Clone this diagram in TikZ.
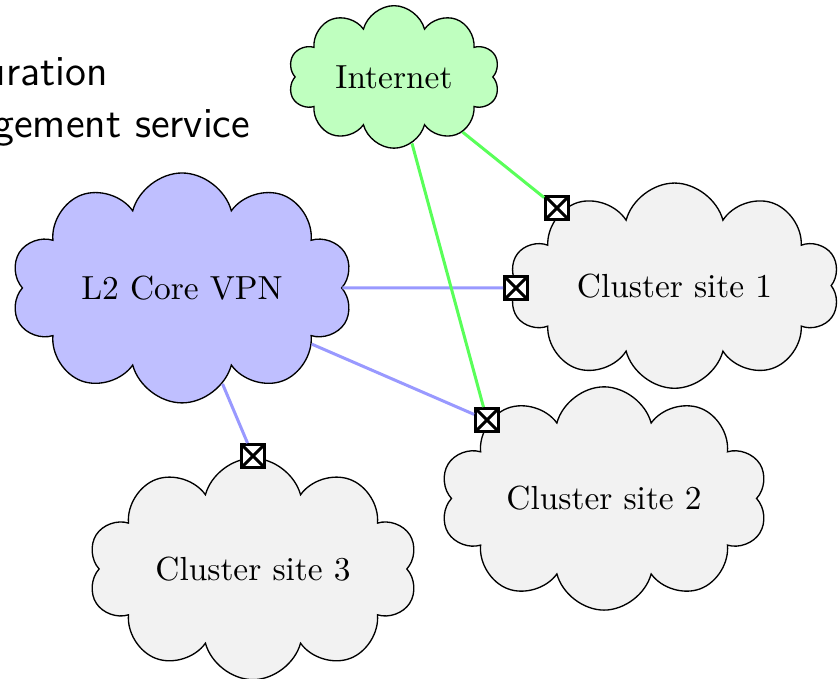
\documentclass[tikz,border=0pt]{standalone}
\usepackage{tikz}
\usetikzlibrary{shapes.symbols}

\tikzset{
    site/.style={cloud, cloud puffs=10, cloud ignores aspect, draw, fill=gray!10, inner sep=0pt},
    port/.style={draw, line width=0.9pt, fill=white, rectangle, minimum size=0.24cm, inner sep=0pt,
        path picture={\draw[line width=0.9pt] (path picture bounding box.south west) -- (path picture bounding box.north east)
            (path picture bounding box.north west) -- (path picture bounding box.south east);}},
    vpnlink/.style={blue!40, line width=0.9pt},
    netlink/.style={green!65, line width=0.9pt}
}

\begin{document}
\begin{tikzpicture}
    \useasboundingbox (0, 0) rectangle (8.821, 7.147);

    % slide text behind the picture
    \node[anchor=base east, inner sep=0pt, font=\sffamily\fontsize{12.8}{15}\selectfont] (cfgText) at (1.14, 6.245) {uration};
    \node[anchor=base east, inner sep=0pt, font=\sffamily\fontsize{12.8}{15}\selectfont] (mgmtText) at (2.64, 5.70) {gement service};

    \node[site, fill=green!25, minimum width=2.23cm, minimum height=1.5cm] (internet) at (4.147, 6.337) {Internet};
    \node[site, fill=blue!25, minimum width=3.6cm, minimum height=2.42cm] (coreVPN) at (1.916, 4.116) {L2 Core VPN};
    \node[site, minimum width=3.48cm, minimum height=2.16cm] (site1) at (7.1, 4.14) {Cluster site 1};
    \node[site, minimum width=3.45cm, minimum height=2.35cm] (site2) at (6.358, 1.9) {Cluster site 2};
    \node[site, minimum width=3.47cm, minimum height=2.33cm] (site3) at (2.663, 1.158) {Cluster site 3};

    \node[port] (portA) at (5.863, 4.958) {};
    \node[port] (portB) at (5.432, 4.116) {};
    \node[port] (portC) at (5.126, 2.726) {};
    \node[port] (portD) at (2.663, 2.347) {};

    \draw[vpnlink] (coreVPN) -- (portB);
    \draw[vpnlink] (coreVPN) -- (portC);
    \draw[vpnlink] (coreVPN) -- (portD);

    \draw[netlink] (internet) -- (portA);
    \draw[netlink] (internet) -- (portC);
\end{tikzpicture}
\end{document}
